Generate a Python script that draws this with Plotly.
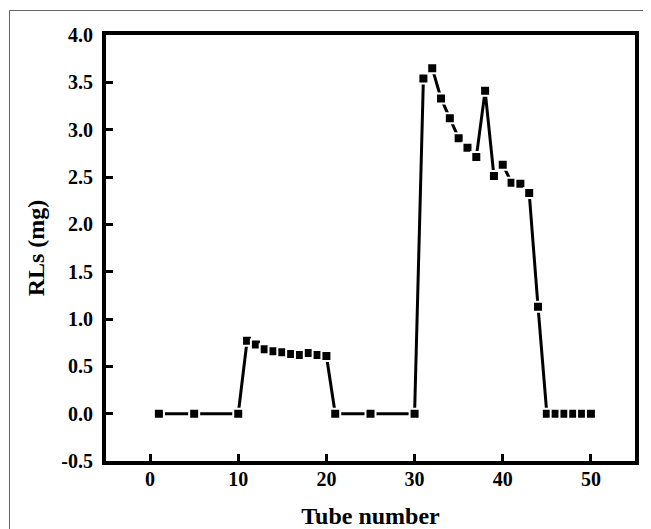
import plotly.graph_objects as go

tube = [1, 5, 10, 11, 12, 13, 14, 15, 16, 17, 18, 19, 20, 21, 25, 30,
        31, 32, 33, 34, 35, 36, 37, 38, 39, 40, 41, 42, 43, 44,
        45, 46, 47, 48, 49, 50]
rls = [0, 0, 0, 0.77, 0.73, 0.68, 0.66, 0.65, 0.63, 0.62, 0.64, 0.62, 0.61, 0, 0, 0,
       3.54, 3.65, 3.33, 3.12, 2.91, 2.81, 2.71, 3.41, 2.51, 2.63, 2.44, 2.43, 2.33, 1.13,
       0, 0, 0, 0, 0, 0]
x_ticks = [0, 10, 20, 30, 40, 50]
y_ticks = [-0.5, 0.0, 0.5, 1.0, 1.5, 2.0, 2.5, 3.0, 3.5, 4.0]
y_labels = ["%.1f" % v for v in y_ticks]

# page has an 8px body margin, so the figure is drawn 8px in from the top-left
OFF = 8
W, H = 651 - OFF, 529 - OFF
L, R, T, B = 106 - OFF, 16, 35 - OFF, 68
pw, ph = W - L - R, H - T - B

def px(x):
    return (x - OFF - L) / pw

def py(y):
    return (H - B - (y - OFF)) / ph

fig = go.Figure()
fig.add_trace(go.Scatter(x=tube, y=rls, mode="lines",
                         line=dict(color="black", width=3), hoverinfo="skip"))
fig.add_trace(go.Scatter(x=tube, y=rls, mode="markers",
                         marker=dict(symbol="square", size=10, color="black",
                                     line=dict(color="white", width=2))))

font_family = "Liberation Serif, Times New Roman, serif"
fig.update_layout(
    width=W, height=H,
    margin=dict(l=L, r=R, t=T, b=B, autoexpand=False),
    paper_bgcolor="white", plot_bgcolor="white",
    showlegend=False,
    font=dict(family=font_family, color="black"),
    xaxis=dict(range=[-5, 55], tickvals=x_ticks, ticks="inside", ticklen=7,
               tickwidth=3, tickcolor="black", showline=True, linewidth=4,
               linecolor="black", mirror=True, showgrid=False, zeroline=False,
               automargin=False, ticklabelstandoff=-3,
               tickfont=dict(size=20, family=font_family, weight="bold"),
               title=dict(text="Tube number", standoff=21,
                          font=dict(size=24, family=font_family, weight="bold"))),
    yaxis=dict(range=[-0.5, 4.0], tickvals=y_ticks, ticktext=y_labels,
               ticks="inside", ticklen=7, tickwidth=3, tickcolor="black",
               showline=True, linewidth=4, linecolor="black", mirror=True,
               showgrid=False, zeroline=False, automargin=False,
               ticklabelstandoff=5,
               tickfont=dict(size=20, family=font_family, weight="bold"),
               title=dict(text="RLs (mg)", standoff=11,
                          font=dict(size=24, family=font_family, weight="bold"))),
)

# outer light frame (left and top edges)
fig.add_shape(type="path", xref="paper", yref="paper",
              path="M %f,%f L %f,%f L %f,%f" % (px(9.5), py(540), px(9.5), py(10.5),
                                                 px(660), py(10.5)),
              line=dict(color="#666666", width=1))

fig.write_html("out.html")
